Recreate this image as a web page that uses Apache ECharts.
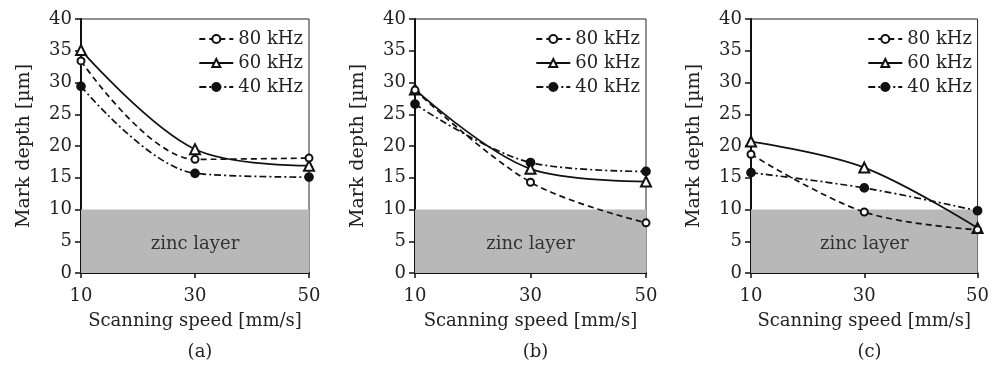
<!DOCTYPE html>
<html><head><meta charset="utf-8">
<script src="https://cdn.jsdelivr.net/npm/echarts@6/dist/echarts.min.js"></script>
<style>html,body{margin:0;padding:0;background:#fff}#c{width:992px;height:365px}</style>
</head><body><div id="c"></div>
<script>
const speeds = ['10', '30', '50'];
const yTicks = [0, 5, 10, 15, 20, 25, 30, 35, 40];
const seriesNames = ['80 kHz', '60 kHz', '40 kHz'];
const panelLabels = ['(a)', '(b)', '(c)'];
// panel (a)
const a80 = [33.4, 17.9, 18.1];
const a60 = [35.1, 19.5, 16.9];
const a40 = [29.4, 15.7, 15.1];
// panel (b)
const b80 = [28.8, 14.3, 7.9];
const b60 = [28.9, 16.4, 14.4];
const b40 = [26.6, 17.4, 16.0];
// panel (c)
const c80 = [18.7, 9.6, 6.8];
const c60 = [20.7, 16.6, 7.1];
const c40 = [15.8, 13.4, 9.8];
const zincTop = 10;

const panels = [[a80, a60, a40], [b80, b60, b40], [c80, c60, c40]];
const FONT = '"DejaVu Serif", "Liberation Serif", serif';
const FS = 18;
const grids = [
  {left: 81, right: 683, top: 19, bottom: 92},
  {left: 415, right: 346, top: 19, bottom: 92},
  {left: 751, right: 14, top: 19, bottom: 92}
];
const gridW = g => 992 - g.left - g.right;

const styles = [
  {symbol: 'emptyCircle', symbolSize: 7, lineType: [6, 4], smooth: 0.35},
  {symbol: 'emptyTriangle', symbolSize: 10, lineType: 'solid', smooth: 0.35},
  {symbol: 'circle', symbolSize: 8, lineType: [7, 3, 2, 3], smooth: 0.35}
];

const option = {
  animation: false,
  backgroundColor: '#fff',
  textStyle: {fontFamily: FONT, color: '#222'},
  grid: grids.map(g => Object.assign({show: true, borderColor: '#222', borderWidth: 1, backgroundColor: 'transparent'}, g)),
  xAxis: grids.map((g, i) => ({
    type: 'category', gridIndex: i, data: speeds, boundaryGap: false,
    axisLine: {lineStyle: {color: '#111', width: 2}},
    axisTick: {show: true, length: 5, alignWithLabel: true, lineStyle: {color: '#111', width: 1.5}},
    axisLabel: {fontFamily: FONT, fontSize: FS, color: '#222', margin: 14},
    splitLine: {show: false},
    name: 'Scanning speed [mm/s]', nameLocation: 'middle', nameGap: 39,
    nameTextStyle: {fontFamily: FONT, fontSize: FS, color: '#222'}
  })),
  yAxis: grids.map((g, i) => ({
    type: 'value', gridIndex: i, min: yTicks[0], max: yTicks[yTicks.length - 1], interval: yTicks[1] - yTicks[0],
    axisLine: {show: true, lineStyle: {color: '#111', width: 2}},
    axisTick: {show: true, length: 6, lineStyle: {color: '#111', width: 1.5}},
    axisLabel: {fontFamily: FONT, fontSize: FS, color: '#222', margin: 9},
    splitLine: {show: false},
    name: 'Mark depth [µm]', nameLocation: 'middle', nameGap: 47, nameRotate: 90,
    nameTextStyle: {fontFamily: FONT, fontSize: 19, color: '#222'}
  })),
  legend: grids.map((g, i) => ({
    data: seriesNames, orient: 'vertical', padding: 0,
    right: g.right + 6, top: 30, itemWidth: 34, itemHeight: 10, itemGap: 6,
    textStyle: {fontFamily: FONT, fontSize: FS, color: '#222'},
    inactiveColor: '#222', selectedMode: false
  })),
  title: grids.map((g, i) => ({
    text: panelLabels[i], left: g.left + gridW(g) / 2, top: 338, textAlign: 'center',
    textStyle: {fontFamily: FONT, fontSize: FS, fontWeight: 'normal', color: '#222'}
  })),
  series: []
};

panels.forEach((vals, pi) => {
  vals.forEach((v, si) => {
    const st = styles[si];
    const s = {
      name: seriesNames[si], type: 'line', xAxisIndex: pi, yAxisIndex: pi,
      data: v, smooth: st.smooth, symbol: st.symbol, symbolSize: st.symbolSize,
      showSymbol: true, clip: false, z: 5 - si,
      lineStyle: {color: '#111', width: 1.7, type: st.lineType},
      itemStyle: {color: '#111', borderColor: '#111', borderWidth: 1.7}
    };
    if (si === 0) {
      s.markArea = {
        silent: true,
        itemStyle: {color: '#b8b8b8'},
        label: {show: true, position: 'inside', offset: [0, 3], formatter: 'zinc layer', fontFamily: FONT, fontSize: FS, color: '#333'},
        data: [[{yAxis: 0}, {yAxis: zincTop}]]
      };
    }
    option.series.push(s);
  });
});

const chart = echarts.init(document.getElementById('c'), null, {renderer: 'canvas'});
chart.setOption(option);
</script></body></html>
